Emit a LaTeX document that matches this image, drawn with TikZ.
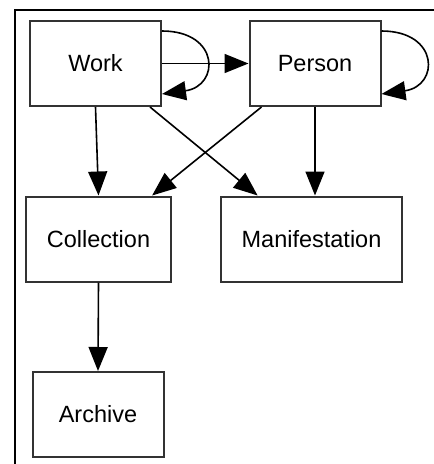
\documentclass[tikz,border=0pt]{standalone}
\usepackage{fontspec}
\setmainfont{Liberation Sans}
\usepackage{tikz}
\usetikzlibrary{arrows.meta, positioning}

\begin{document}
\begin{tikzpicture}[
    x=1pt, y=-1pt,
    entity/.style={rectangle, draw=black!80, fill=white, line width=2pt,
                   minimum width=131pt, minimum height=85pt, inner xsep=21pt,
                   font=\fontsize{23.5}{28}\selectfont},
    arrow/.style={-{Triangle[length=24pt, width=19pt]}, line width=1.6pt, color=black},
    frameline/.style={line width=2.4pt, color=black}
]
\useasboundingbox (0,0) rectangle (434,464);
%% outer frame (only the left and top edges show)
\draw[frameline] (15,464) -- (15,10) -- (434,10);
\node[entity] (work) at (95.5, 63.5) {Work};
\node[entity] (person) at (315, 63.5) {Person};
\node[entity] (collection) at (98.5, 239) {Collection};
\node[entity] (manifestation) at (311.5, 239) {Manifestation};
\node[entity] (archive) at (98, 414.5) {Archive};
%% self loops
\draw[arrow] ([yshift=-11pt]work.north east) .. controls +(58,0) and +(58,-8) .. ([yshift=13pt]work.south east);
\draw[arrow] ([yshift=-11pt]person.north east) .. controls +(58,0) and +(58,-8) .. ([yshift=13pt]person.south east);
\draw[arrow] (work.east) -- (person.west);
\draw[arrow] (work.south) -- (collection.north);
\draw[arrow] ([xshift=-12pt]work.south east) -- ([xshift=38pt]manifestation.north west);
\draw[arrow] ([xshift=13pt]person.south west) -- ([xshift=-20pt]collection.north east);
\draw[arrow] (person.south) -- (person.south |- manifestation.north);
\draw[arrow] (collection.south) -- (archive.north);
\end{tikzpicture}
\end{document}
